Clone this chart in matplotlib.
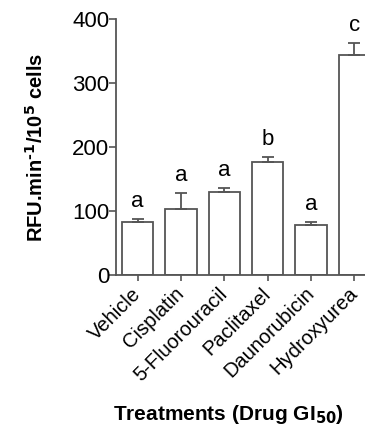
import matplotlib
matplotlib.use("Agg")
from matplotlib import pyplot as plt
import numpy as np

plt.rcParams['font.family'] = ['Liberation Sans', 'DejaVu Sans']

treatments = ["Vehicle", "Cisplatin", "5-Fluorouracil", "Paclitaxel", "Daunorubicin", "Hydroxyurea"]
rfu = [84, 104, 130, 178, 79, 345]
sem = [4, 24, 6, 7, 5, 18]
groups = ["a", "a", "a", "b", "a", "c"]

fig = plt.figure(figsize=(3.65, 4.33), dpi=100)
ax = fig.add_axes([0.318, 0.364, 0.70, 0.591])

x = np.arange(len(treatments))
edge = "#555555"
ax.bar(x, rfu, width=0.72, color="white", edgecolor=edge, linewidth=1.3,
       yerr=[np.zeros(len(sem)), sem], capsize=4,
       error_kw=dict(ecolor=edge, elinewidth=1.3, capthick=1.3))

# letters over the error bars
for xi, v, e, g in zip(x, rfu, sem, groups):
    ax.text(xi, v + e + 11, g, ha="center", va="bottom", fontsize=16)

ax.set_xlim(-0.5, 5.4)
ax.set_ylim(0, 400)
ax.set_yticks([0, 100, 200, 300, 400])
ax.set_xticks(x)
ax.set_xticklabels(treatments, rotation=45, ha="right", va="center",
                   rotation_mode="anchor", fontsize=14.5)
ax.tick_params(axis="y", labelsize=16, length=5, width=1.2, color=edge, pad=0)
ax.tick_params(axis="x", length=4, width=1.2, color=edge, pad=7)

for s in ["top", "right"]:
    ax.spines[s].set_visible(False)
for s in ["left", "bottom"]:
    ax.spines[s].set_color(edge)
    ax.spines[s].set_linewidth(1.3)

ax.set_ylabel("RFU.min$^{\\mathbf{\u2010 1}}$/10$^{\\mathbf{5}}$ cells", fontsize=14.5, fontweight="bold", labelpad=18)
fig.text(0.625, 0.042, "Treatments (Drug GI$_{\\mathbf{50}}$)", ha="center", va="center",
         fontsize=15, fontweight="bold")

plt.savefig("out.png", dpi=100)
